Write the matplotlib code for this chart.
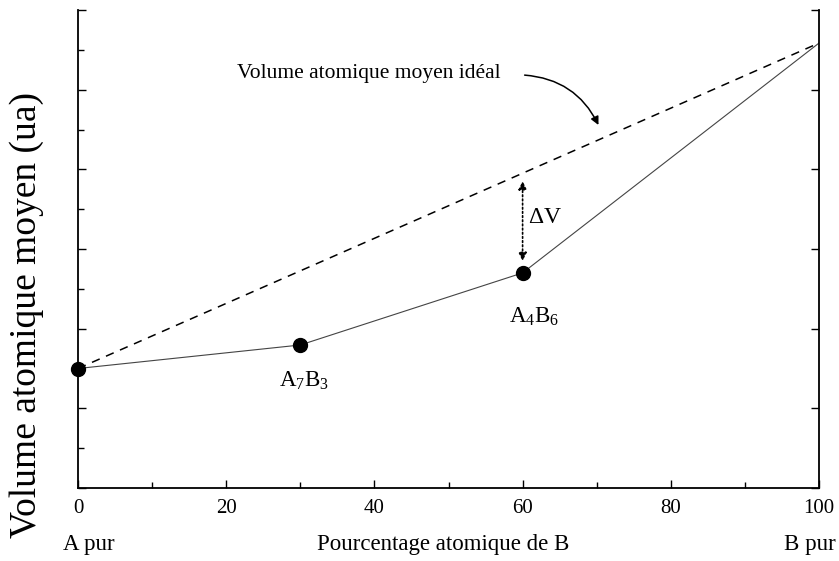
import matplotlib
matplotlib.use("Agg")
import matplotlib.pyplot as plt
from matplotlib.ticker import MultipleLocator
from matplotlib.patches import FancyArrowPatch
import matplotlib.transforms as mtransforms

plt.rcParams['font.family'] = ['Liberation Serif', 'DejaVu Serif']
plt.rcParams['mathtext.fontset'] = 'custom'
plt.rcParams['mathtext.rm'] = 'Liberation Serif'

# Data
composition = [0, 30, 60, 100]          # atomic % of B
volume = [3.0, 3.59, 5.40, 11.17]       # mean atomic volume (a.u.)
point_labels = ["", r"$\mathregular{A_7B_3}$", r"$\mathregular{A_4B_6}$", ""]
ideal_x = [composition[0], composition[-1]]
ideal_y = [volume[0], volume[-1]]
xticks = [0, 20, 40, 60, 80, 100]

fig = plt.figure(figsize=(8.39, 5.61), dpi=100)
ax = fig.add_axes([78/839, 73/561, 741/839, 478/561])

ax.plot(ideal_x, ideal_y, color='black', lw=1.1, dashes=(5.5, 4.5))
ax.plot(composition, volume, color='#444444', lw=0.8)
ax.plot(composition[:3], volume[:3], 'o', color='black', ms=10, clip_on=False, zorder=5)

ax.set_xlim(0, 100)
ax.set_ylim(0, 12)
ax.set_xticks(xticks)
ax.xaxis.set_minor_locator(MultipleLocator(10))
ax.yaxis.set_major_locator(MultipleLocator(2))
ax.yaxis.set_minor_locator(MultipleLocator(1))
ax.tick_params(axis='both', which='both', direction='in', width=1.0)
ax.tick_params(axis='both', which='major', length=6)
ax.tick_params(axis='both', which='minor', length=4)
ax.tick_params(axis='x', labelsize=15, pad=8)
ax.tick_params(axis='y', left=True, right=True, labelleft=False)
ax.spines['top'].set_visible(False)
for s in ['left', 'right', 'bottom']:
    ax.spines[s].set_linewidth(1.3)

# point labels
ax.text(composition[1] + 0.5, volume[1] - 0.9, point_labels[1], ha='center', va='center', fontsize=16.5)
ax.text(composition[2] + 1.5, volume[2] - 1.1, point_labels[2], ha='center', va='center', fontsize=16.5)

# Delta V arrow
ideal60 = volume[0] + (volume[-1] - volume[0]) * composition[2] / 100
ax.annotate('', xy=(composition[2], ideal60 - 0.2), xytext=(composition[2], volume[2] + 0.3),
            arrowprops=dict(arrowstyle='<|-|>', color='black', lw=1.2, linestyle=(0, (1, 1.5)),
                            mutation_scale=12, shrinkA=0, shrinkB=0))
ax.text(composition[2] + 0.7, 6.78, r'$\mathregular{\Delta V}$', ha='left', va='center', fontsize=17)

# ideal annotation
ax.text(21.5, 10.3, 'Volume atomique moyen idéal', ha='left', va='baseline', fontsize=15.5)
arr = FancyArrowPatch((59.9, 10.37), (70.4, 9.05), connectionstyle='arc3,rad=-0.3',
                      arrowstyle='-|>', mutation_scale=12, color='black', lw=1.1)
ax.add_patch(arr)

# bottom labels
trans = mtransforms.blended_transform_factory(ax.transData, fig.transFigure)
ax.text(1.5, 1 - 550/561, 'A pur', transform=trans, ha='center', va='baseline', fontsize=16.5)
ax.text(49.3, 1 - 550/561, 'Pourcentage atomique de B', transform=trans, ha='center', va='baseline', fontsize=16.5)
ax.text(98.8, 1 - 550/561, 'B pur', transform=trans, ha='center', va='baseline', fontsize=16.5)

fig.text(27/839, 1 - 315/561, 'Volume atomique moyen (ua)', rotation=90, ha='center', va='center', fontsize=27)

fig.savefig('out.png', dpi=100)
